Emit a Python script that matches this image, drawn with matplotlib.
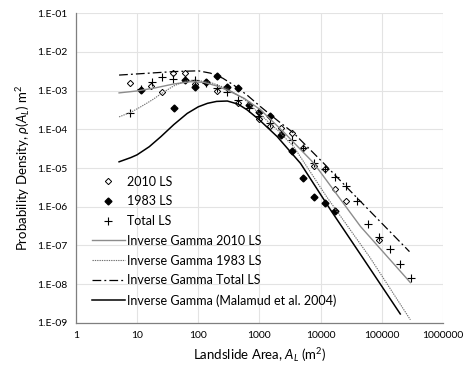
import numpy as np
import matplotlib
matplotlib.use("Agg")
import matplotlib.pyplot as plt

plt.rcParams['font.family'] = ['Lato', 'DejaVu Sans']
plt.rcParams['mathtext.fontset'] = 'custom'
plt.rcParams['mathtext.rm'] = 'Lato'
plt.rcParams['mathtext.it'] = 'Lato:italic'

# observed densities (log10 of area, log10 of density)
ls2010_x = [0.886, 1.234, 1.414, 1.588, 1.778, 1.946, 2.30, 2.654, 3.0, 3.18, 3.355, 3.535, 3.71, 3.89, 4.07, 4.24, 4.415, 4.95]
ls2010_y = [-2.815, -2.876, -3.047, -2.557, -2.54, -2.83, -3.005, -3.31, -3.735, -3.916, -3.96, -4.105, -4.49, -4.95, -5.03, -5.55, -5.85, -6.86]

ls1983_x = [1.07, 1.604, 1.778, 1.946, 2.13, 2.30, 2.475, 2.654, 2.83, 3.0, 3.18, 3.355, 3.535, 3.71, 3.89, 4.07, 4.24]
ls1983_y = [-2.987, -3.46, -2.73, -2.90, -2.77, -2.626, -2.92, -2.945, -3.374, -3.56, -3.66, -4.15, -4.55, -5.27, -5.75, -5.91, -6.10]

total_x = [0.886, 1.07, 1.25, 1.414, 1.59, 1.946, 2.13, 2.30, 2.475, 2.654, 2.83, 3.0, 3.18, 3.535, 3.71, 3.89, 4.07, 4.24, 4.415, 4.60, 4.77, 4.95, 5.13, 5.30, 5.476]
total_y = [-3.57, -2.97, -2.77, -2.66, -2.70, -2.73, -2.81, -2.94, -3.03, -3.245, -3.46, -3.66, -3.85, -4.28, -4.49, -4.86, -5.03, -5.22, -5.46, -5.85, -6.45, -6.79, -7.09, -7.48, -7.83]

# inverse gamma fits
fit2010_x = [0.707, 1.0, 1.3, 1.6, 1.876, 2.1, 2.3, 2.475, 2.75, 3.02, 3.4, 3.89, 4.65, 5.465]
fit2010_y = [-3.06, -3.01, -2.93, -2.83, -2.77, -2.79, -2.88, -2.99, -3.20, -3.50, -4.08, -4.88, -6.51, -7.96]

fit1983_x = [0.707, 0.9, 1.06, 1.25, 1.414, 1.6, 1.8, 1.946, 2.2, 2.475, 2.75, 3.0, 3.3, 3.56, 4.1, 4.8, 5.465]
fit1983_y = [-3.68, -3.56, -3.42, -3.24, -3.06, -2.88, -2.75, -2.73, -2.79, -2.95, -3.22, -3.60, -4.03, -4.45, -5.75, -7.30, -8.92]

fitTotal_x = [0.707, 1.2, 1.6, 2.0, 2.2, 2.4, 2.58, 2.8, 3.02, 3.3, 3.56, 4.05, 4.5, 5.45]
fitTotal_y = [-2.60, -2.55, -2.51, -2.49, -2.55, -2.68, -2.86, -3.12, -3.42, -3.78, -4.10, -4.88, -5.62, -7.16]

malamud_x = [0.707, 0.9, 1.0, 1.2, 1.39, 1.6, 1.82, 2.0, 2.15, 2.3, 2.475, 2.65, 2.80, 3.0, 3.29, 3.67, 4.16, 4.7, 5.30]
malamud_y = [-4.84, -4.73, -4.66, -4.45, -4.19, -3.88, -3.59, -3.42, -3.33, -3.28, -3.27, -3.35, -3.50, -3.76, -4.19, -4.88, -6.08, -7.35, -8.77]

def p(v):
    return 10 ** np.array(v)

fig = plt.figure(figsize=(4.65, 3.75), dpi=100)
ax = fig.add_axes([0.163, 0.139, 0.79, 0.826])

ax.plot(p(ls2010_x), p(ls2010_y), linestyle="none", marker="D", markersize=3.2,
        markerfacecolor="white", markeredgecolor="black", markeredgewidth=0.7, label="2010 LS")
ax.plot(p(ls1983_x), p(ls1983_y), linestyle="none", marker="D", markersize=3.5,
        color="black", label="1983 LS")
ax.plot(p(total_x), p(total_y), linestyle="none", marker="+", markersize=6,
        markeredgewidth=0.8, color="black", label="Total LS")

ax.plot(p(fit2010_x), p(fit2010_y), color="#8c8c8c", lw=1.0, label="Inverse Gamma 2010 LS")
ax.plot(p(fit1983_x), p(fit1983_y), color="#707070", lw=0.8, linestyle=(0, (1.2, 0.9)),
        label="Inverse Gamma 1983 LS")
ax.plot(p(fitTotal_x), p(fitTotal_y), color="black", lw=0.9, linestyle=(0, (7, 2.5, 1.5, 2.5)),
        label="Inverse Gamma Total LS")
ax.plot(p(malamud_x), p(malamud_y), color="black", lw=1.1,
        label="Inverse Gamma (Malamud et al. 2004)")

ax.set_xscale("log")
ax.set_yscale("log")
ax.set_xlim(1, 1e6)
ax.set_ylim(1e-9, 1e-1)

xt = [1, 10, 100, 1000, 10000, 100000, 1000000]
ax.set_xticks(xt)
ax.set_xticklabels([str(v) for v in xt])
yt = [10.0 ** e for e in range(-9, 0)]
ax.set_yticks(yt)
ax.set_yticklabels(["1.E-%02d" % -e for e in range(-9, 0)])
ax.minorticks_off()
ax.tick_params(length=0, labelsize=7.5, pad=6)

ax.grid(True, color="#e3e3e3", lw=0.8)
ax.set_axisbelow(True)
for s in ["top", "right"]:
    ax.spines[s].set_visible(False)
for s in ["left", "bottom"]:
    ax.spines[s].set_color("#7f7f7f")
    ax.spines[s].set_linewidth(0.9)

ax.set_xlabel(r"Landslide Area, $\mathit{A_L}$ (m$^2$)", fontsize=9.5)
ax.set_ylabel(r"Probability Density, $\mathit{\rho}(\mathit{A_L})$ m$^2$", fontsize=9.5)

ax.legend(loc="lower left", bbox_to_anchor=(0.0, 0.0), frameon=False, fontsize=9,
          handlelength=2.6, handletextpad=0.2, labelspacing=0.62, borderpad=0.9,
          borderaxespad=0.4)

fig.savefig("out.png", dpi=100)
